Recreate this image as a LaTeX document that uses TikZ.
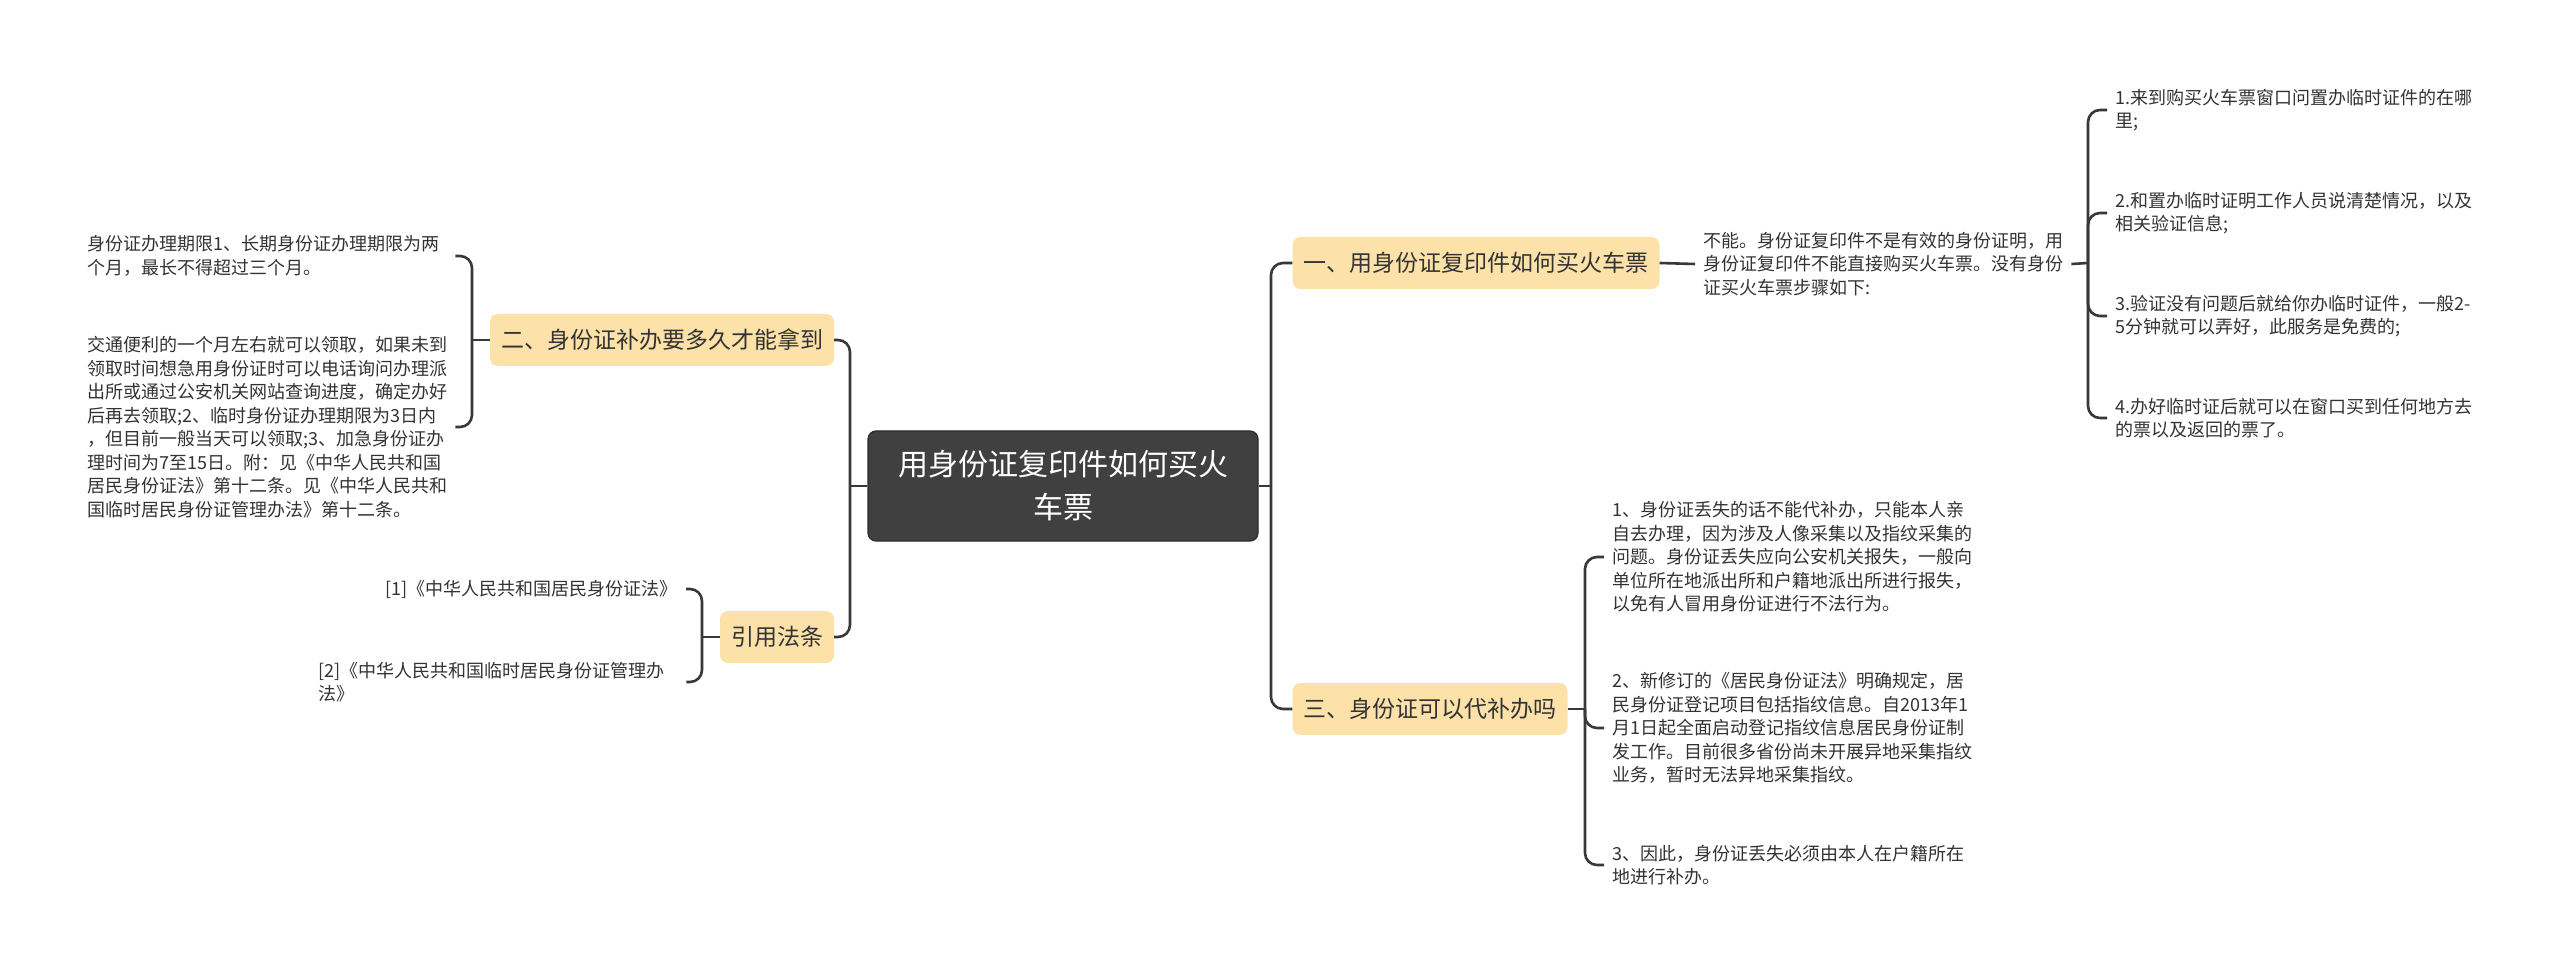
\documentclass[tikz,border=0pt]{standalone}
\usepackage{fontspec}
\setmainfont{Noto Sans CJK SC}
\definecolor{branchfill}{HTML}{FCE2A9}
\definecolor{rootfill}{HTML}{404040}
\definecolor{rootline}{HTML}{2C2C2C}
\definecolor{linecol}{HTML}{383838}
\definecolor{txt}{HTML}{333333}
\tikzset{
  conn/.style={draw=linecol, line width=2.6pt},
  bconn/.style={conn, rounded corners=12pt},
  rootbox/.style={draw=rootline, line width=1.2pt, fill=rootfill, rounded corners=8pt, text=white, align=center,
    minimum width=390pt, minimum height=110pt, font=\fontsize{30pt}{43pt}\selectfont},
  branchbox/.style={fill=branchfill, rounded corners=8pt, text=txt, minimum height=52pt, inner xsep=11pt,
    font=\fontsize{23pt}{28pt}\selectfont},
  leaf/.style={text=txt, align=left, inner xsep=8pt, inner ysep=2pt, font=\fontsize{18pt}{23.5pt}\selectfont},
  leafw/.style={leaf, text width=360pt}
}
\begin{document}
\begin{tikzpicture}[x=1pt,y=-1pt]
\fill[white] (0,0) rectangle (2560,973);
\useasboundingbox (0,0) rectangle (2560,973);

% root
\node[rootbox] (root) at (1063,486) {用身份证复印件如何买火\\车票};

% branches
\node[branchbox] (b1) at (1476,263) {一、用身份证复印件如何买火车票};
\node[branchbox] (b2) at (662,340) {二、身份证补办要多久才能拿到};
\node[branchbox] (b3) at (777,637) {引用法条};
\node[branchbox] (b4) at (1430,709) {三、身份证可以代补办吗};

% trunk coordinates
\coordinate (lc) at (850,486);
\coordinate (rc) at (1271,486);
\draw[conn] (root.west) -- (lc);
\draw[bconn] (b2.east) -| (lc) |- (b3.east);
\draw[conn] (root.east) -- (rc);
\draw[bconn] (b1.west) -| (rc) |- (b4.west);

% branch 1
\node[leafw, anchor=west] (l1) at (1695,264) {不能。身份证复印件不是有效的身份证明，用\\身份证复印件不能直接购买火车票。没有身份\\证买火车票步骤如下:};
\draw[conn] (b1.east) -- (l1.west);
\node[leafw, anchor=west] (i1) at (2107,110) {1.来到购买火车票窗口问置办临时证件的在哪\\里;};
\node[leafw, anchor=west] (i2) at (2107,213) {2.和置办临时证明工作人员说清楚情况，以及\\相关验证信息;};
\node[leafw, anchor=west] (i3) at (2107,316) {3.验证没有问题后就给你办临时证件，一般2-\\5分钟就可以弄好，此服务是免费的;};
\node[leafw, anchor=west] (i4) at (2107,418) {4.办好临时证后就可以在窗口买到任何地方去\\的票以及返回的票了。};
\coordinate (c1) at (2088,263);
\draw[conn] (l1.east) -- (c1);
\draw[bconn] (i1.west) -| (c1) |- (i4.west);
\draw[bconn] (i2.west) -| (c1);
\draw[bconn] (i3.west) -| (c1);

% branch 2
\node[leafw, anchor=west] (t1) at (79,256) {身份证办理期限1、长期身份证办理期限为两\\个月，最长不得超过三个月。};
\node[leafw, anchor=west] (t2) at (79,427) {交通便利的一个月左右就可以领取，如果未到\\领取时间想急用身份证时可以电话询问办理派\\出所或通过公安机关网站查询进度，确定办好\\后再去领取;2、临时身份证办理期限为3日内\\，但目前一般当天可以领取;3、加急身份证办\\理时间为7至15日。附：见《中华人民共和国\\居民身份证法》第十二条。见《中华人民共和\\国临时居民身份证管理办法》第十二条。};
\coordinate (c2) at (472,340);
\draw[conn] (b2.west) -- (c2);
\draw[bconn] (t1.east) -| (c2) |- (t2.east);

% branch 3
\node[leaf, anchor=east, inner xsep=8pt] (r1) at (686,589) {[1]《中华人民共和国居民身份证法》};
\node[leafw, anchor=west] (r2) at (310,682) {[2]《中华人民共和国临时居民身份证管理办\\法》};
\coordinate (c3) at (702,637);
\draw[conn] (b3.west) -- (c3);
\draw[bconn] (r1.east) -| (c3) |- (r2.east);

% branch 4
\node[leafw, anchor=west] (s1) at (1604,557) {1、身份证丢失的话不能代补办，只能本人亲\\自去办理，因为涉及人像采集以及指纹采集的\\问题。身份证丢失应向公安机关报失，一般向\\单位所在地派出所和户籍地派出所进行报失，\\以免有人冒用身份证进行不法行为。};
\node[leafw, anchor=west] (s2) at (1604,728) {2、新修订的《居民身份证法》明确规定，居\\民身份证登记项目包括指纹信息。自2013年1\\月1日起全面启动登记指纹信息居民身份证制\\发工作。目前很多省份尚未开展异地采集指纹\\业务，暂时无法异地采集指纹。};
\node[leafw, anchor=west] (s3) at (1604,865) {3、因此，身份证丢失必须由本人在户籍所在\\地进行补办。};
\coordinate (c4) at (1585,709);
\draw[conn] (b4.east) -- (c4);
\draw[bconn] (s1.west) -| (c4) |- (s3.west);
\draw[bconn] (s2.west) -| (c4);
\end{tikzpicture}
\end{document}
